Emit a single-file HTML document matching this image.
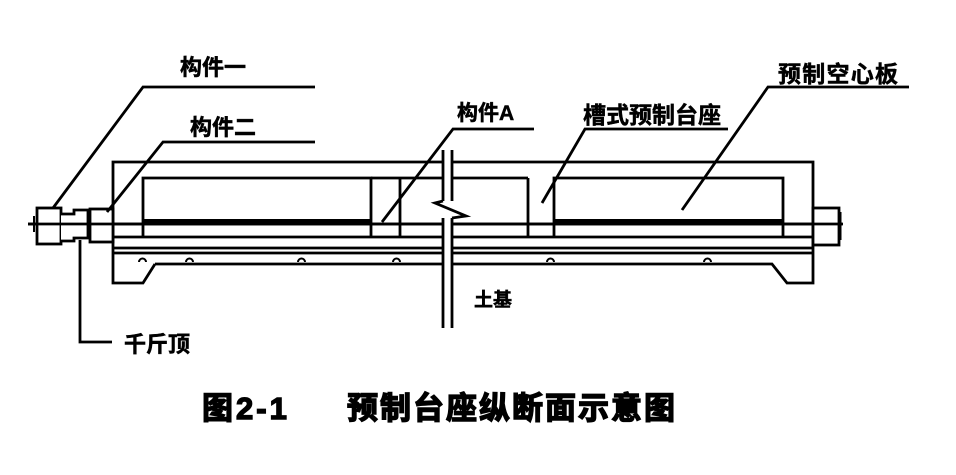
<!DOCTYPE html>
<html><head><meta charset="utf-8"><style>
html,body{margin:0;padding:0;background:#fff;}
svg{display:block}
text{font-family:"Liberation Sans","Noto Sans CJK SC",sans-serif;font-weight:bold;fill:#000;stroke:#000;stroke-width:0.5}
text.cap{stroke-width:1.4}
</style></head><body>
<svg width="956" height="475" viewBox="0 0 956 475" xmlns="http://www.w3.org/2000/svg">
<g stroke="#000" stroke-width="2.8" fill="none">
<polyline points="155,264 143,283 113,283 113,162 813,162 813,283 787,283 772,264 155,264"/>
<polyline points="143,237 143,178 371,178 371,237"/>
<line x1="371" y1="178" x2="443" y2="178"/>
<line x1="400" y1="178" x2="400" y2="237"/>
<line x1="452" y1="178" x2="528" y2="178"/>
<line x1="528" y1="178" x2="528" y2="237"/>
<polyline points="554,237 554,178 783,178 783,237"/>
<line x1="143" y1="221" x2="371" y2="221" stroke-width="4"/>
<line x1="554" y1="221" x2="783" y2="221" stroke-width="4"/>
<line x1="28" y1="224" x2="842" y2="224"/>
<line x1="113" y1="237" x2="813" y2="237"/>
<line x1="113" y1="248" x2="813" y2="248"/>
<line x1="113" y1="253" x2="813" y2="253"/>
<rect x="37" y="208" width="24" height="36" fill="#fff"/>
<polyline points="61,214 74,214 74,210 88,210 88,238 74,238 74,241 61,241" fill="#fff"/>
<rect x="90" y="209" width="23" height="33" fill="#fff"/>
<rect x="813" y="208" width="26" height="37" fill="#fff"/>
<line x1="840" y1="212" x2="840" y2="240" stroke-width="3"/>
<line x1="34" y1="216" x2="34" y2="232" stroke-width="2"/>
<line x1="28" y1="224" x2="843" y2="224"/>
<polyline points="80,240 80,342 112,342"/>
<g stroke-width="2">
<path d="M139,262 a3.5,3.5 0 0 1 7,0"/>
<path d="M186,262 a3.5,3.5 0 0 1 7,0"/>
<path d="M298,262 a3.5,3.5 0 0 1 7,0"/>
<path d="M393,262 a3.5,3.5 0 0 1 7,0"/>
<path d="M547,262 a3.5,3.5 0 0 1 7,0"/>
<path d="M704,262 a3.5,3.5 0 0 1 7,0"/>
</g>
<rect x="444" y="150" width="7" height="178" fill="#fff" stroke="none"/>
<line x1="443" y1="150" x2="443" y2="201"/>
<polyline points="443,201 435,203 466,216 452,218"/>
<line x1="452" y1="150" x2="452" y2="201"/>
<line x1="443" y1="218" x2="443" y2="328"/>
<line x1="452" y1="218" x2="452" y2="328"/>
<polyline points="315,87 143,87 53,208"/>
<polyline points="315,142 163,142 107,212"/>
<polyline points="534,129 453,129 382,222"/>
<polyline points="728,129 585,129 542,203"/>
<polyline points="909,87 768,87 682,210"/>
</g>
<text x="180" y="75" font-size="22">构件一</text>
<text x="190" y="135" font-size="22">构件二</text>
<text x="457" y="120" font-size="21">构件A</text>
<text x="583" y="123" font-size="23">槽式预制台座</text>
<text x="778" y="82" font-size="23" textLength="120">预制空心板</text>
<text x="124" y="352" font-size="22">千斤顶</text>
<text x="474" y="306" font-size="19">土基</text>
<text class="cap" x="202" y="419" font-size="31" letter-spacing="3">图2-1</text>
<text class="cap" x="347" y="419" font-size="31" letter-spacing="2">预制台座纵断面示意图</text>
</svg>
</body></html>
